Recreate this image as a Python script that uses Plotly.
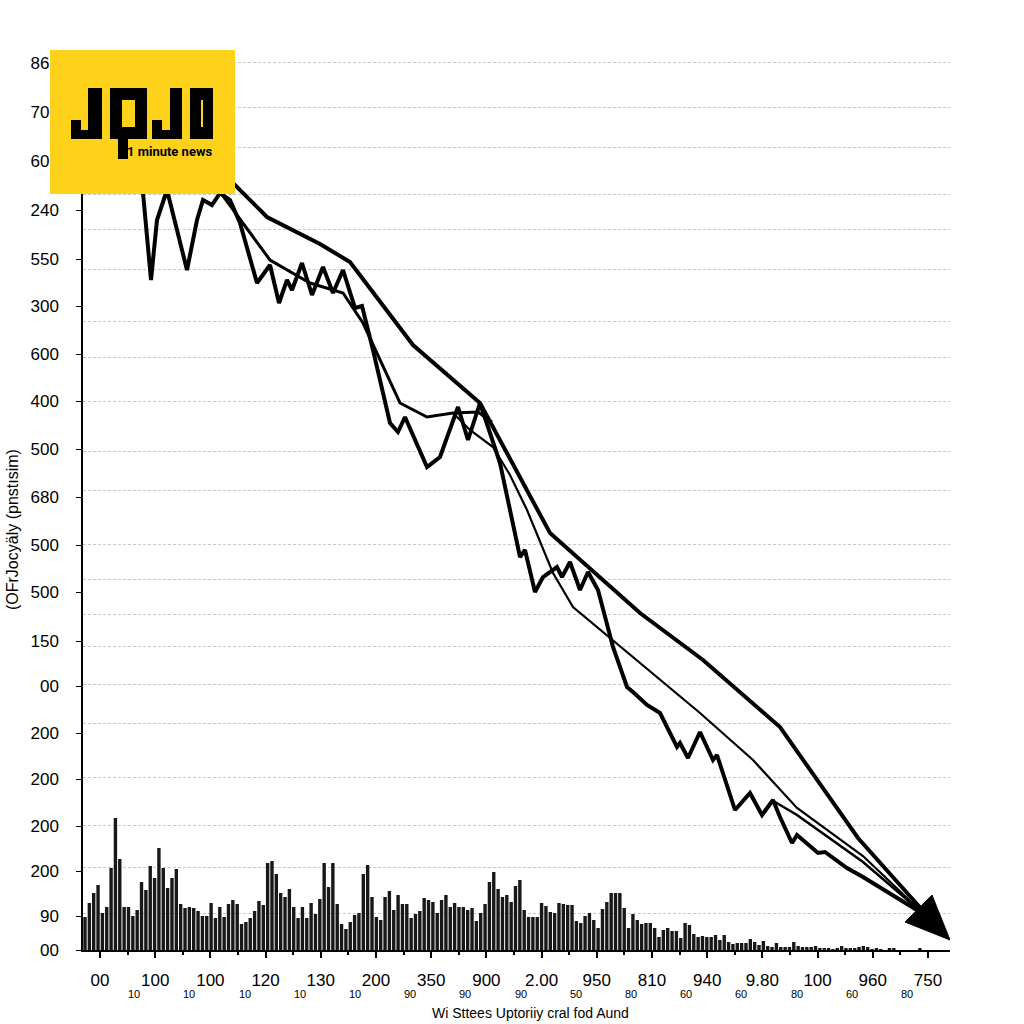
import numpy as np
import plotly.graph_objects as go

# ---------------- data ----------------
x_tick_labels = ["00", "100", "100", "120", "130", "200", "350", "900", "2.00",
                 "950", "810", "940", "9.80", "100", "960", "750"]
x_sub_labels = ["10", "10", "10", "10", "10", "90", "90", "90", "50",
                "80", "60", "60", "80", "60", "80"]
y_tick_vals = [887, 838, 789, 740, 691, 644, 596, 549, 501, 453, 405, 358,
               309, 264, 217, 171, 124, 79, 34, 0]
y_tick_labels = ["860", "700", "600", "240", "550", "300", "600", "400", "500",
                 "680", "500", "500", "150", "00", "200", "200", "200", "200",
                 "90", "00"]
y_grid_vals = [888, 843, 803, 756, 721, 681, 629, 593, 549, 499, 460, 406,
               371, 336, 304, 266, 227, 173, 125, 83, 37]

volume = [33, 47, 57, 65, 37, 43, 82, 132, 91, 43,
          43, 34, 40, 68, 60, 84, 72, 102, 82, 62,
          72, 81, 46, 42, 43, 42, 39, 34, 34, 47,
          32, 43, 33, 46, 50, 46, 26, 28, 32, 39,
          49, 45, 87, 89, 76, 57, 53, 61, 43, 32,
          43, 32, 47, 36, 51, 87, 63, 87, 46, 26,
          21, 28, 35, 37, 76, 85, 53, 33, 30, 53,
          59, 40, 55, 46, 46, 32, 36, 39, 52, 50,
          48, 37, 50, 55, 43, 47, 43, 43, 40, 42,
          29, 37, 46, 68, 78, 61, 53, 55, 48, 64,
          70, 40, 33, 33,
          33, 47, 44, 38, 37, 47, 46, 45, 45, 29,
          27, 34, 37, 30, 22, 41, 48, 57, 57, 57,
          42, 22, 36, 30, 26, 27, 27, 22, 13, 20,
          22, 19, 19, 12, 27, 25, 16, 13, 14, 13,
          13, 15, 10, 15, 8, 6, 7, 7, 7, 11,
          8, 5, 9, 4, 3, 7, 3, 3, 3, 8,
          4, 3, 3, 3, 4, 2, 2, 2, 1, 2,
          4, 2, 2, 2, 3, 4, 3, 1, 2, 1,
          0, 2, 2, 0, 0, 0, 0, 0, 2, 0,
          0, 0, 0, 0, 0]

# thick smooth line
a_x = [105, 133, 167, 220, 250, 313, 380, 450, 540, 603, 680, 758, 825]
a_y = [790, 767, 733, 706, 688, 605, 547, 417, 337, 290, 223, 112, 37]

# jagged line
b_x = [40, 51, 57, 67, 87, 97, 103, 112, 120, 130, 140, 157, 170, 179, 187,
       192, 202, 212, 223, 233, 243, 255, 262, 273, 290, 298, 305, 327, 340,
       358, 368, 380, 400, 420, 425, 435, 443, 457, 462, 470, 480, 488, 498,
       513, 527, 533, 547, 560, 577, 580, 588, 600, 613, 617, 635, 650, 662,
       673, 680, 692, 697, 718, 725, 747, 763, 825]
b_y = [790, 670, 730, 760, 680, 730, 750, 745, 757, 750, 727, 667, 685, 647,
       670, 660, 687, 655, 683, 657, 680, 642, 644, 600, 527, 518, 533, 483,
       493, 543, 510, 547, 487, 393, 400, 358, 373, 383, 373, 388, 360, 378,
       360, 303, 263, 258, 245, 237, 203, 207, 192, 218, 190, 195, 140, 157,
       135, 150, 133, 107, 115, 97, 98, 82, 73, 35]

# medium line (upper part)
c_x = [115, 170, 210, 243, 263, 300, 327, 353, 378, 392]
c_y = [765, 690, 667, 657, 627, 547, 533, 537, 538, 528]

# thin line
d_x = [355, 370, 393, 410, 427, 453, 473, 520, 600, 653, 697, 763, 825]
d_y = [535, 520, 503, 475, 440, 377, 343, 304, 237, 190, 142, 94, 35]

# medium line (lower part)
e_x = [675, 697, 763, 825]
e_y = [148, 135, 88, 35]

arrow_x = [850, 805, 832, 850]
arrow_y = [10, 28, 55, 10]

# ---------------- figure ----------------
TICK = 55.2
tick_vals = [k * TICK for k in range(len(x_tick_labels))]
minor_vals = [(k + 0.5) * TICK for k in range(len(x_tick_labels) - 1)]

fig = go.Figure()

bar_x = np.linspace(-15, 846, len(volume))
fig.add_trace(go.Bar(x=bar_x, y=volume, marker=dict(color="#181818", line=dict(width=0)),
                     width=3.4, showlegend=False))

for xs, ys, w in [(a_x, a_y, 4), (c_x, c_y, 3), (d_x, d_y, 2.2), (e_x, e_y, 2.6), (b_x, b_y, 4)]:
    fig.add_trace(go.Scatter(x=xs, y=ys, mode="lines",
                             line=dict(color="black", width=w, shape="linear"),
                             showlegend=False))

fig.add_trace(go.Scatter(x=arrow_x, y=arrow_y, mode="lines", fill="toself",
                         fillcolor="black", line=dict(color="black", width=1),
                         showlegend=False))

L, R, T, B = 83, 74, 50, 74
PW, PH = 1024 - L - R, 1024 - T - B


def px(xp, yp):
    return (xp - L) / PW, (1024 - B - yp) / PH


shapes = []


def rect(x0, y0, x1, y1, color):
    p0 = px(x0, y1)
    p1 = px(x1, y0)
    shapes.append(dict(type="rect", xref="paper", yref="paper", x0=p0[0], y0=p0[1],
                       x1=p1[0], y1=p1[1], fillcolor=color, line=dict(width=0),
                       layer="above"))


YEL = "#FED11B"
rect(50, 50, 235, 194, YEL)
# J
rect(88, 88, 102, 139, "black"); rect(71, 130, 102, 139, "black"); rect(71, 120, 81, 139, "black")
# Q
rect(110, 88, 147, 100, "black"); rect(110, 88, 122, 139, "black")
rect(135, 88, 147, 139, "black"); rect(110, 127, 147, 139, "black")
rect(118, 139, 128, 159, "black")
# J
rect(170, 88, 182, 139, "black"); rect(152, 130, 182, 139, "black"); rect(152, 120, 162, 139, "black")
# O
rect(190, 88, 201, 139, "black"); rect(203, 88, 213, 139, "black")
rect(190, 88, 213, 100, "black"); rect(190, 127, 213, 139, "black")

annotations = []
nx, ny = px(214, 151)
annotations.append(dict(text="<b>1 minute news</b>", xref="paper", yref="paper", x=nx, y=ny,
                        xanchor="right", yanchor="middle", showarrow=False,
                        font=dict(family="Roboto", size=13, color="black")))

sy = px(0, 994)[1]
for k, lab in enumerate(x_sub_labels, start=1):
    annotations.append(dict(text=lab, xref="x", yref="paper", x=tick_vals[k] - 21, y=sy,
                            xanchor="center", yanchor="middle", showarrow=False,
                            font=dict(family="Liberation Sans", size=11, color="black")))

tx, ty = px(530, 1013)
annotations.append(dict(text="Wi Sttees Uptoriiy cral fod Aund", xref="paper", yref="paper",
                        x=tx, y=ty, xanchor="center", yanchor="middle", showarrow=False,
                        font=dict(family="Liberation Sans", size=14, color="black")))
yx, yy = px(12, 530)
annotations.append(dict(text="(OFrJocyäly (pnstısim)", xref="paper", yref="paper",
                        x=yx, y=yy, xanchor="center", yanchor="middle", showarrow=False,
                        textangle=-90,
                        font=dict(family="Liberation Sans", size=16, color="black")))

fig.update_layout(
    width=1024, height=1024,
    margin=dict(l=L, r=R, t=T, b=B, pad=0),
    paper_bgcolor="white", plot_bgcolor="white",
    bargap=0.3,
    shapes=shapes, annotations=annotations,
    font=dict(family="Liberation Sans", color="black"),
    xaxis=dict(range=[-17, 850], tickmode="array", tickvals=tick_vals, ticktext=x_tick_labels,
               showgrid=False, zeroline=False, showline=True, linecolor="black", linewidth=2,
               ticks="outside", ticklen=6, tickwidth=1.5, tickcolor="black",
               tickfont=dict(size=17, family="Liberation Sans"), ticklabelstandoff=8,
               minor=dict(tickmode="array", tickvals=minor_vals, ticks="outside", ticklen=3,
                          tickcolor="black", showgrid=False)),
    yaxis=dict(range=[0, 900], tickmode="array", tickvals=y_tick_vals, ticktext=y_tick_labels,
               showgrid=False, zeroline=False, showline=True, linecolor="black", linewidth=1.5,
               ticks="outside", ticklen=5, tickwidth=1.2, tickcolor="black",
               tickfont=dict(size=17, family="Liberation Sans"), ticklabelstandoff=14,
               minor=dict(tickmode="array", tickvals=y_grid_vals, ticks="", showgrid=True,
                          gridcolor="#c8c8c8", gridwidth=1, griddash="3px,2px")),
)

fig.write_html("out.html")
